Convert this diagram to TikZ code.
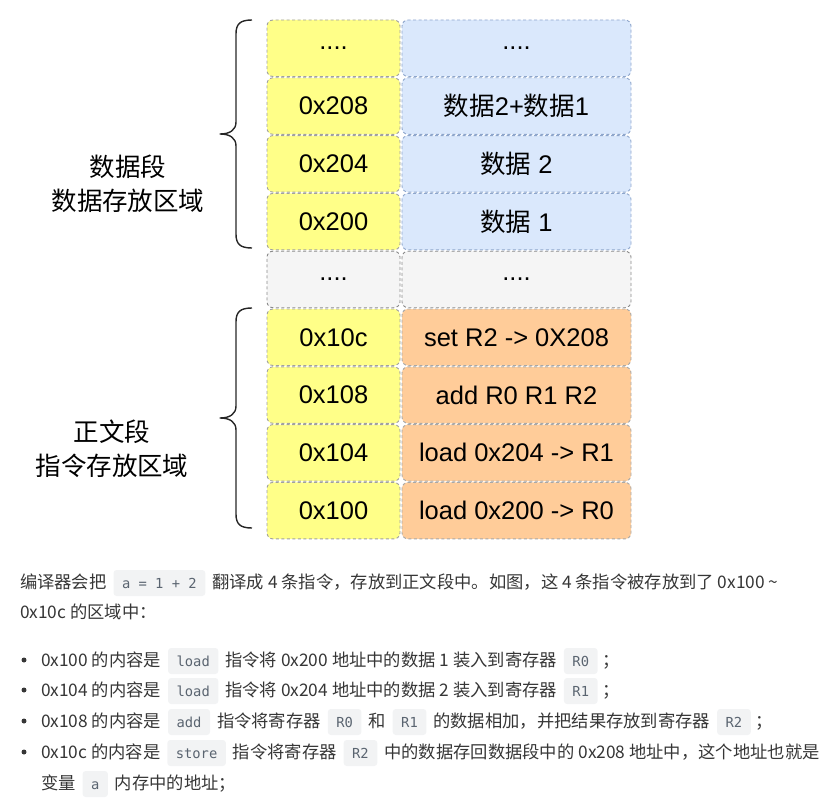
\documentclass[tikz,border=0pt]{standalone}
\usepackage{fontspec}
\setmainfont{Liberation Sans}
\newfontfamily\cjk{Noto Sans CJK SC}
\newfontfamily\codefont{DejaVu Sans Mono}
\definecolor{yel}{HTML}{FFFF88}
\definecolor{blu}{HTML}{DAE8FC}
\definecolor{gry}{HTML}{F5F5F5}
\definecolor{org}{HTML}{FFCC99}
\definecolor{yelline}{HTML}{A0A0A0}
\definecolor{bluline}{HTML}{8EA6CC}
\definecolor{gryline}{HTML}{8A8A8A}
\definecolor{orgline}{HTML}{A8A8A8}
\definecolor{txtgray}{HTML}{363636}
\definecolor{codebg}{HTML}{F2F3F4}
\definecolor{codetxt}{HTML}{5A6470}
\tikzset{
  cell/.style={draw, dashed, dash pattern=on 3pt off 2.5pt, line width=0.9pt, rounded corners=6pt,
    minimum height=56.5pt, inner sep=0pt, outer sep=0pt, font=\fontsize{25.5}{25.5}\selectfont, text=black},
  addr/.style={cell, fill=yel, draw=yelline, minimum width=133pt},
  bval/.style={cell, fill=blu, draw=bluline, minimum width=229pt},
  gaddr/.style={cell, fill=gry, draw=gryline, minimum width=133pt},
  gval/.style={cell, fill=gry, draw=gryline, minimum width=229pt},
  oval/.style={cell, fill=org, draw=orgline, minimum width=229pt},
  seglabel/.style={font=\cjk\fontsize{25.5}{34}\selectfont, align=center, text=black, inner sep=0pt},
  brace/.style={line width=1.4pt, draw=black!85, line join=round},
  txt/.style={font=\cjk\fontsize{17.3}{17.3}\selectfont, text=txtgray, inner sep=0pt, outer sep=0pt, anchor=base west},
  code/.style={fill=codebg, rounded corners=3pt, font=\codefont\fontsize{13.8}{13.8}\selectfont, text=codetxt,
    inner xsep=8.5pt, inner ysep=7pt, text height=11pt, text depth=1pt, outer sep=0pt, anchor=base west},
  bullet/.style={circle, fill=txtgray, inner sep=0pt, minimum size=5pt}
}
\begin{document}
\begin{tikzpicture}[x=1pt,y=1pt]
\useasboundingbox (0,0) rectangle (836,-800);
% rows
\node[addr] (a1) at (333.5,-48.25) {....};
\node[bval] (v1) at (516.5,-48.25) {....};
\node[addr] (a2) at (333.5,-106.05) {0x208};
\node[bval] (v2) at (516.5,-106.05) {{\cjk 数据}2+{\cjk 数据}1};
\node[addr] (a3) at (333.5,-163.85) {0x204};
\node[bval] (v3) at (516.5,-163.85) {{\cjk 数据} 2};
\node[addr] (a4) at (333.5,-221.65) {0x200};
\node[bval] (v4) at (516.5,-221.65) {{\cjk 数据} 1};
\node[gaddr] (a5) at (333.5,-279.45) {....};
\node[gval] (v5) at (516.5,-279.45) {....};
\node[addr] (a6) at (333.5,-337.25) {0x10c};
\node[oval] (v6) at (516.5,-337.25) {set R2 -> 0X208};
\node[addr] (a7) at (333.5,-395.05) {0x108};
\node[oval] (v7) at (516.5,-395.05) {add R0 R1 R2};
\node[addr] (a8) at (333.5,-452.85) {0x104};
\node[oval] (v8) at (516.5,-452.85) {load 0x204 -> R1};
\node[addr] (a9) at (333.5,-510.65) {0x100};
\node[oval] (v9) at (516.5,-510.65) {load 0x200 -> R0};
% braces
\draw[brace] (252,-20) .. controls (240,-20) and (236,-24) .. (236,-34) -- (236,-122)
  .. controls (236,-130) and (230,-134) .. (220,-134)
  .. controls (230,-134) and (236,-138) .. (236,-146) -- (236,-234)
  .. controls (236,-244) and (240,-248) .. (252,-248);
\draw[brace] (252,-308) .. controls (240,-308) and (236,-312) .. (236,-322) -- (236,-406)
  .. controls (236,-414) and (230,-418) .. (220,-418)
  .. controls (230,-418) and (236,-422) .. (236,-430) -- (236,-514)
  .. controls (236,-524) and (240,-528) .. (252,-528);
% labels
\node[seglabel] (l1) at (128,-184) {数据段\\数据存放区域};
\node[seglabel] (l2) at (112,-449) {正文段\\指令存放区域};
% text
\node[txt] (t1a) at (20,-588) {编译器会把};
\node[code] (c1a) at ([xshift=7pt]t1a.base east) {a = 1 + 2};
\node[txt] (t1b) at ([xshift=7pt]c1a.base east) {翻译成 4 条指令，存放到正文段中。如图，这 4 条指令被存放到了 0x100 \textasciitilde};
\node[txt] (t2) at (20,-618) {0x10c 的区域中：};
% bullet 1
\node[bullet] (b1) at (24,-660) {};
\node[txt] (t3a) at (41,-666) {0x100 的内容是};
\node[code] (c3a) at ([xshift=7pt]t3a.base east) {load};
\node[txt] (t3b) at ([xshift=7pt]c3a.base east) {指令将 0x200 地址中的数据 1 装入到寄存器};
\node[code] (c3b) at ([xshift=7pt]t3b.base east) {R0};
\node[txt] (t3c) at ([xshift=5pt]c3b.base east) {；};
% bullet 2
\node[bullet] (b2) at (24,-690) {};
\node[txt] (t4a) at (41,-696) {0x104 的内容是};
\node[code] (c4a) at ([xshift=7pt]t4a.base east) {load};
\node[txt] (t4b) at ([xshift=7pt]c4a.base east) {指令将 0x204 地址中的数据 2 装入到寄存器};
\node[code] (c4b) at ([xshift=7pt]t4b.base east) {R1};
\node[txt] (t4c) at ([xshift=5pt]c4b.base east) {；};
% bullet 3
\node[bullet] (b3) at (24,-721) {};
\node[txt] (t5a) at (41,-727) {0x108 的内容是};
\node[code] (c5a) at ([xshift=7pt]t5a.base east) {add};
\node[txt] (t5b) at ([xshift=7pt]c5a.base east) {指令将寄存器};
\node[code] (c5b) at ([xshift=7pt]t5b.base east) {R0};
\node[txt] (t5c) at ([xshift=7pt]c5b.base east) {和};
\node[code] (c5c) at ([xshift=7pt]t5c.base east) {R1};
\node[txt] (t5d) at ([xshift=7pt]c5c.base east) {的数据相加，并把结果存放到寄存器};
\node[code] (c5d) at ([xshift=7pt]t5d.base east) {R2};
\node[txt] (t5e) at ([xshift=5pt]c5d.base east) {；};
% bullet 4
\node[bullet] (b4) at (24,-752) {};
\node[txt] (t6a) at (41,-758) {0x10c 的内容是};
\node[code] (c6a) at ([xshift=7pt]t6a.base east) {store};
\node[txt] (t6b) at ([xshift=7pt]c6a.base east) {指令将寄存器};
\node[code] (c6b) at ([xshift=7pt]t6b.base east) {R2};
\node[txt] (t6c) at ([xshift=7pt]c6b.base east) {中的数据存回数据段中的 0x208 地址中，这个地址也就是};
\node[txt] (t7a) at (41,-789) {变量};
\node[code] (c7a) at ([xshift=7pt]t7a.base east) {a};
\node[txt] (t7b) at ([xshift=7pt]c7a.base east) {内存中的地址；};
\end{tikzpicture}
\end{document}
